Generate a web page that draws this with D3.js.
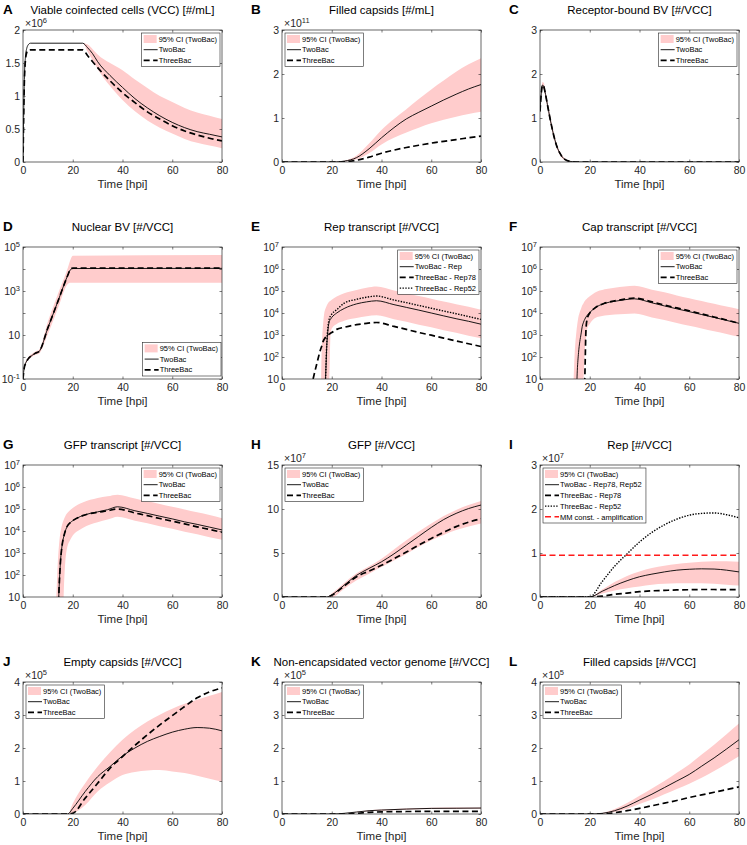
<!DOCTYPE html>
<html>
<head>
<meta charset="utf-8">
<script src="https://cdn.jsdelivr.net/npm/d3@7"></script>
<style>
  body { margin: 0; background: #fff; }
  svg { font-family: "Liberation Sans", Arial, Helvetica, sans-serif; }
</style>
</head>
<body>
<div id="chart"></div>
<script>
// ---- data ----

// A: viable coinfected cells, x1e6 per mL
const tA = [0, 0.5, 1, 1.5, 2, 3, 24, 26, 28, 30, 35, 40, 45, 50, 55, 60, 65, 70, 75, 80];
const aTwo = [0, 1.2, 1.6, 1.72, 1.77, 1.8, 1.8, 1.73, 1.64, 1.52, 1.31, 1.13, 0.96, 0.82, 0.7, 0.6, 0.52, 0.46, 0.42, 0.38];
const aThree = [0, 1.15, 1.55, 1.66, 1.69, 1.7, 1.7, 1.61, 1.52, 1.43, 1.23, 1.05, 0.9, 0.76, 0.65, 0.55, 0.47, 0.41, 0.36, 0.32];
const aHi = [0, 1.2, 1.6, 1.72, 1.77, 1.8, 1.8, 1.78, 1.71, 1.63, 1.5, 1.39, 1.25, 1.12, 1.0, 0.91, 0.82, 0.75, 0.7, 0.65];
const aLo = [0, 1.2, 1.6, 1.72, 1.77, 1.8, 1.8, 1.67, 1.54, 1.41, 1.15, 0.94, 0.77, 0.63, 0.52, 0.43, 0.35, 0.29, 0.25, 0.21];

// B: filled capsids, x1e11 per mL
const tB = [0, 20, 22, 25, 30, 35, 40, 45, 50, 55, 60, 65, 70, 75, 80];
const bTwo = [0, 0, 0.003, 0.02, 0.1, 0.3, 0.55, 0.78, 0.98, 1.13, 1.27, 1.41, 1.54, 1.66, 1.76];
const bThree = [0, 0, 0, 0.005, 0.04, 0.11, 0.2, 0.27, 0.33, 0.38, 0.43, 0.47, 0.51, 0.55, 0.59];
const bHi = [0, 0, 0.005, 0.03, 0.15, 0.42, 0.73, 0.98, 1.2, 1.43, 1.65, 1.85, 2.05, 2.22, 2.36];
const bLo = [0, 0, 0.002, 0.01, 0.06, 0.2, 0.4, 0.55, 0.67, 0.78, 0.88, 0.96, 1.03, 1.09, 1.14];

// C: receptor-bound BV
const tC = [0, 0.5, 1, 1.5, 2, 3, 4, 5, 6, 7, 8, 9, 10, 12, 15, 80];
const cTwo = [1.15, 1.55, 1.75, 1.72, 1.6, 1.3, 1.0, 0.73, 0.5, 0.32, 0.2, 0.11, 0.06, 0.015, 0, 0];
const cThree = [1.15, 1.55, 1.75, 1.72, 1.6, 1.3, 1.0, 0.73, 0.5, 0.32, 0.2, 0.11, 0.06, 0.015, 0, 0];
const cHi = [1.2, 1.62, 1.82, 1.8, 1.68, 1.38, 1.08, 0.8, 0.56, 0.37, 0.24, 0.14, 0.08, 0.02, 0, 0];
const cLo = [1.1, 1.48, 1.68, 1.64, 1.52, 1.22, 0.92, 0.66, 0.44, 0.27, 0.16, 0.08, 0.04, 0.01, 0, 0];

// D: nuclear BV (log)
const tD = [0, 0.25, 0.5, 1, 2, 3, 4, 5, 6.4, 10, 14, 18, 19, 20, 80];
const dTwo = [0.1, 0.2, 0.32, 0.5, 0.8, 1.05, 1.26, 1.5, 1.75, 21, 330, 5200, 9100, 10500, 10700];
const dThree = [0.1, 0.2, 0.32, 0.5, 0.8, 1.05, 1.26, 1.5, 1.75, 21, 330, 5200, 9500, 11000, 11000];
const dHi = [0.1, 0.22, 0.35, 0.58, 0.93, 1.26, 1.5, 1.8, 2.1, 40, 710, 11000, 25000, 40000, 43000];
const dLo = [0.1, 0.18, 0.28, 0.44, 0.69, 0.89, 1.07, 1.26, 1.41, 11, 160, 2100, 2400, 2400, 2400];

// E: Rep transcript (log)
const tE = [12.5, 14, 15.5, 16, 16.5, 17, 17.5, 18, 18.5, 19, 19.5, 20, 22, 25, 30, 34, 38, 45, 50, 55, 60, 65, 70, 75, 80];
const eTwo = [1, 1, 1, 1, 1, 1, 10, 320, 1800, 4000, 5200, 6300, 10000, 16000, 26000, 32000, 36000, 24000, 18000, 13500, 10000, 7400, 5500, 4200, 3100];
const eRep78 = [10, 50, 220, 320, 500, 650, 780, 900, 1000, 1100, 1200, 1300, 1800, 2240, 2950, 3400, 3700, 2450, 1800, 1300, 980, 720, 540, 400, 300];
const eRep52 = [1, 1, 1, 1, 1, 1, 10, 400, 2500, 5500, 7200, 8900, 14000, 28000, 42000, 52000, 59000, 39000, 29500, 22000, 16500, 12300, 9300, 6900, 5100];
const eHi = [1, 1, 1, 300, 3000, 10000, 16000, 22000, 28000, 33000, 36000, 40000, 56000, 79000, 112000, 140000, 160000, 105000, 79000, 59000, 45000, 33000, 25000, 19000, 14000];
const eLo = [1, 1, 1, 1, 1, 1, 1, 1, 1, 10, 1000, 2000, 3200, 4500, 6000, 7100, 7900, 5200, 4000, 2950, 2240, 1660, 1260, 930, 710];

// F: Cap transcript (log)
const tF = [13, 13.5, 14, 14.5, 15, 15.5, 16, 16.5, 17, 17.5, 18, 18.5, 19, 20, 22, 26, 30, 34, 38, 45, 50, 55, 60, 65, 70, 75, 80];
const fTwo = [1, 1, 1, 1, 25, 160, 500, 1100, 2500, 3800, 5200, 6600, 7900, 10500, 16600, 27500, 34000, 40000, 44000, 29000, 21000, 15500, 11500, 8500, 6300, 4600, 3400];
const fThree = [1, 1, 1, 1, 1, 1, 1, 1, 1, 1, 10, 2000, 5600, 10000, 16600, 28000, 35500, 43000, 48000, 32000, 23000, 17000, 12600, 9100, 6600, 4800, 3400];
const fHi = [1, 10, 200, 1000, 3200, 7100, 11200, 15800, 22400, 28000, 35500, 41000, 47000, 57500, 83000, 120000, 141000, 162000, 174000, 115000, 87000, 63000, 47000, 35000, 26000, 19500, 14800];
const fLo = [1, 1, 1, 1, 1, 1, 1, 1, 1, 10, 200, 800, 2000, 3200, 5750, 7600, 8500, 9100, 9550, 6300, 4800, 3550, 2630, 2000, 1480, 1120, 830];

// G: GFP transcript (log)
const tG = [13, 13.5, 14, 14.5, 15, 15.5, 16, 16.5, 17, 17.5, 18, 19, 20, 22, 24, 27, 30, 34, 38, 45, 50, 55, 60, 65, 70, 75, 80];
const gTwo = [1, 1, 1, 25, 320, 1400, 3550, 6300, 10000, 14000, 18000, 24000, 29500, 40000, 50000, 63000, 74000, 93000, 126000, 83000, 63000, 47000, 35500, 26000, 20000, 15000, 11200];
const gThree = [1, 1, 1, 25, 320, 1400, 3550, 6300, 10000, 14000, 18000, 24000, 29500, 40000, 50000, 62000, 71000, 83000, 100000, 66000, 50000, 37000, 28000, 21000, 15500, 11700, 8700];
const gHi = [1, 20, 400, 2500, 7900, 15800, 25000, 35500, 47000, 59000, 69000, 89000, 112000, 158000, 200000, 260000, 320000, 380000, 450000, 300000, 224000, 170000, 126000, 95000, 71000, 54000, 38000];
const gLo = [1, 1, 1, 1, 1, 1, 1, 40, 400, 1260, 2240, 4000, 6300, 10000, 13800, 20000, 25000, 33000, 45000, 29500, 22400, 16600, 12600, 9300, 7100, 5200, 4000];

// H: GFP, x1e7
const tH = [0, 18, 20, 25, 30, 35, 40, 45, 50, 55, 60, 65, 70, 75, 80];
const hTwo = [0, 0, 0.25, 1.35, 2.47, 3.25, 4.0, 4.9, 5.9, 6.9, 7.9, 8.8, 9.5, 10.05, 10.45];
const hThree = [0, 0, 0.2, 1.25, 2.3, 2.95, 3.6, 4.35, 5.1, 5.9, 6.65, 7.35, 8.0, 8.5, 8.9];
const hHi = [0, 0, 0.4, 1.6, 2.7, 3.5, 4.35, 5.4, 6.45, 7.45, 8.35, 9.2, 9.9, 10.45, 10.9];
const hLo = [0, 0, 0, 0.95, 1.9, 2.65, 3.4, 4.15, 4.9, 5.7, 6.45, 7.05, 7.6, 8.0, 8.35];

// I: Rep protein, x1e7
const tI = [0, 20, 25, 30, 35, 40, 45, 50, 55, 60, 65, 70, 75, 80];
const iTwo = [0, 0, 0.13, 0.26, 0.37, 0.46, 0.52, 0.57, 0.61, 0.63, 0.64, 0.635, 0.61, 0.57];
const iRep78 = [0, 0, 0.02, 0.06, 0.09, 0.12, 0.14, 0.15, 0.16, 0.165, 0.17, 0.17, 0.168, 0.165];
const iRep52 = [0, 0, 0.35, 0.7, 0.98, 1.25, 1.47, 1.64, 1.77, 1.86, 1.9, 1.91, 1.87, 1.8];
const iHi = [0, 0, 0.17, 0.34, 0.48, 0.58, 0.66, 0.71, 0.75, 0.78, 0.8, 0.81, 0.81, 0.8];
const iLo = [0, 0, 0.08, 0.15, 0.2, 0.24, 0.28, 0.3, 0.31, 0.31, 0.31, 0.3, 0.28, 0.26];
const iMM = 0.95;

// J: empty capsids, x1e5
const tJ = [0, 18, 20, 25, 30, 35, 40, 45, 50, 55, 60, 65, 70, 75, 80];
const jTwo = [0, 0, 0.17, 0.68, 1.13, 1.44, 1.76, 2.0, 2.2, 2.35, 2.48, 2.57, 2.62, 2.6, 2.52];
const jThree = [0, 0, 0.02, 0.48, 0.93, 1.39, 1.74, 2.08, 2.4, 2.7, 2.98, 3.26, 3.52, 3.7, 3.82];
const jHi = [0, 0, 0.32, 0.93, 1.44, 1.87, 2.25, 2.55, 2.8, 3.01, 3.19, 3.34, 3.46, 3.58, 3.7];
const jLo = [0, 0, 0.02, 0.27, 0.68, 0.96, 1.18, 1.27, 1.32, 1.33, 1.29, 1.24, 1.16, 1.07, 0.98];

// K: non-encapsidated vector genome, x1e5
const tK = [0, 20, 25, 30, 35, 40, 50, 60, 70, 80];
const kTwo = [0, 0, 0.02, 0.06, 0.1, 0.12, 0.15, 0.17, 0.175, 0.18];
const kThree = [0, 0, 0, 0.02, 0.05, 0.065, 0.075, 0.08, 0.08, 0.08];
const kHi = [0, 0, 0.025, 0.07, 0.115, 0.14, 0.17, 0.19, 0.2, 0.2];
const kLo = [0, 0, 0.015, 0.05, 0.085, 0.1, 0.13, 0.15, 0.155, 0.16];

// L: filled capsids per VCC, x1e5
const tL = [0, 20, 25, 30, 35, 40, 45, 50, 55, 60, 65, 70, 75, 80];
const lTwo = [0, 0, 0.02, 0.1, 0.24, 0.42, 0.6, 0.8, 1.0, 1.2, 1.45, 1.7, 1.97, 2.25];
const lThree = [0, 0, 0, 0.04, 0.1, 0.17, 0.25, 0.33, 0.41, 0.5, 0.58, 0.66, 0.74, 0.82];
const lHi = [0, 0, 0.03, 0.15, 0.33, 0.55, 0.77, 1.0, 1.25, 1.5, 1.8, 2.1, 2.42, 2.74];
const lLo = [0, 0, 0.01, 0.06, 0.16, 0.3, 0.44, 0.6, 0.76, 0.92, 1.1, 1.3, 1.52, 1.75];

const xTicks = [0, 20, 40, 60, 80];
const ciLabel = '95% CI (TwoBac)';
const basicLegend = [['band', ciLabel], ['two', 'TwoBac'], ['three', 'ThreeBac']];

// ---- layout ----
const width = 747, height = 845;
const colX = [23, 282, 540], rowY = [30, 247, 465, 682];
const letterX = [3, 251, 509];
const pw = 199, ph = 132;
const axisColor = '#262626';
const ciFill = '#ffcccc';

const styles = {
  two:   {stroke: '#000', w: 0.9, dash: null},
  three: {stroke: '#000', w: 1.7, dash: '6,3.5'},
  dot:   {stroke: '#000', w: 1.4, dash: '1.4,1.4'},
  mm:    {stroke: '#ff1a1a', w: 1.5, dash: '6,3.5'}
};

const panels = [
  {id: 'A', title: 'Viable coinfected cells (VCC) [#/mL]', c: 0, r: 0, t: tA, dom: [0, 2], yt: [0, 0.5, 1, 1.5, 2], exp: '6',
   band: [aLo, aHi], lines: [[aTwo, 'two'], [aThree, 'three']], leg: 'tr', entries: basicLegend},
  {id: 'B', title: 'Filled capsids [#/mL]', c: 1, r: 0, t: tB, dom: [0, 3], yt: [0, 1, 2, 3], exp: '11',
   band: [bLo, bHi], lines: [[bTwo, 'two'], [bThree, 'three']], leg: 'tl', entries: basicLegend},
  {id: 'C', title: 'Receptor-bound BV [#/VCC]', c: 2, r: 0, t: tC, dom: [0, 3], yt: [0, 1, 2, 3],
   band: [cLo, cHi], lines: [[cTwo, 'two'], [cThree, 'three']], leg: 'tr', entries: basicLegend},
  {id: 'D', title: 'Nuclear BV [#/VCC]', c: 0, r: 1, t: tD, dom: [0.1, 1e5], log: true,
   yt: [0.1, 1, 10, 100, 1e3, 1e4, 1e5], ylab: [0.1, 10, 1e3, 1e5],
   band: [dLo, dHi], lines: [[dTwo, 'two'], [dThree, 'three']], leg: 'br', entries: basicLegend},
  {id: 'E', title: 'Rep transcript [#/VCC]', c: 1, r: 1, t: tE, dom: [10, 1e7], log: true,
   yt: [10, 1e2, 1e3, 1e4, 1e5, 1e6, 1e7], ylab: [10, 1e2, 1e3, 1e4, 1e5, 1e6, 1e7],
   band: [eLo, eHi], lines: [[eTwo, 'two'], [eRep78, 'three'], [eRep52, 'dot']], leg: 'tr',
   entries: [['band', ciLabel], ['two', 'TwoBac - Rep'], ['three', 'ThreeBac - Rep78'], ['dot', 'ThreeBac - Rep52']]},
  {id: 'F', title: 'Cap transcript [#/VCC]', c: 2, r: 1, t: tF, dom: [10, 1e7], log: true,
   yt: [10, 1e2, 1e3, 1e4, 1e5, 1e6, 1e7], ylab: [10, 1e2, 1e3, 1e4, 1e5, 1e6, 1e7],
   band: [fLo, fHi], lines: [[fTwo, 'two'], [fThree, 'three']], leg: 'tr', entries: basicLegend},
  {id: 'G', title: 'GFP transcript [#/VCC]', c: 0, r: 2, t: tG, dom: [10, 1e7], log: true,
   yt: [10, 1e2, 1e3, 1e4, 1e5, 1e6, 1e7], ylab: [10, 1e2, 1e3, 1e4, 1e5, 1e6, 1e7],
   band: [gLo, gHi], lines: [[gTwo, 'two'], [gThree, 'three']], leg: 'tr', entries: basicLegend},
  {id: 'H', title: 'GFP [#/VCC]', c: 1, r: 2, t: tH, dom: [0, 15], yt: [0, 5, 10, 15], exp: '7',
   band: [hLo, hHi], lines: [[hTwo, 'two'], [hThree, 'three']], leg: 'tl', entries: basicLegend},
  {id: 'I', title: 'Rep [#/VCC]', c: 2, r: 2, t: tI, dom: [0, 3], yt: [0, 1, 2, 3], exp: '7',
   band: [iLo, iHi], lines: [[iTwo, 'two'], [iRep78, 'three'], [iRep52, 'dot']], hline: iMM, leg: 'tl',
   entries: [['band', ciLabel], ['two', 'TwoBac - Rep78, Rep52'], ['three', 'ThreeBac - Rep78'],
             ['dot', 'ThreeBac - Rep52'], ['mm', 'MM const. - amplification']]},
  {id: 'J', title: 'Empty capsids [#/VCC]', c: 0, r: 3, t: tJ, dom: [0, 4], yt: [0, 1, 2, 3, 4], exp: '5',
   band: [jLo, jHi], lines: [[jTwo, 'two'], [jThree, 'three']], leg: 'tl', entries: basicLegend},
  {id: 'K', title: 'Non-encapsidated vector genome [#/VCC]', c: 1, r: 3, t: tK, dom: [0, 4], yt: [0, 1, 2, 3, 4], exp: '5',
   band: [kLo, kHi], lines: [[kTwo, 'two'], [kThree, 'three']], leg: 'tl', entries: basicLegend},
  {id: 'L', title: 'Filled capsids [#/VCC]', c: 2, r: 3, t: tL, dom: [0, 4], yt: [0, 1, 2, 3, 4], exp: '5',
   band: [lLo, lHi], lines: [[lTwo, 'two'], [lThree, 'three']], leg: 'tl', entries: basicLegend}
];

const svg = d3.select('#chart').append('svg')
  .attr('width', width).attr('height', height);

function styleAxis(g) {
  g.select('.domain').remove();
  g.attr('font-family', null).attr('font-size', 10.5).attr('color', axisColor);
  g.selectAll('.tick line').attr('stroke-width', 0.6);
}

function drawPanel(p) {
  const x0 = colX[p.c], y0 = rowY[p.r];
  const g = svg.append('g').attr('transform', `translate(${x0},${y0})`);
  const x = d3.scaleLinear().domain([0, 80]).range([0, pw]);
  const y = (p.log ? d3.scaleLog() : d3.scaleLinear()).domain(p.dom).range([ph, 0]);

  // panel letter and title
  svg.append('text').attr('x', letterX[p.c]).attr('y', y0 - 16)
    .attr('font-size', 13.5).attr('font-weight', 'bold').text(p.id);
  svg.append('text').attr('x', x0 + pw / 2).attr('y', y0 - 16)
    .attr('text-anchor', 'middle').attr('font-size', 11.5).attr('fill', '#000').text(p.title);

  g.append('clipPath').attr('id', 'clip' + p.id)
    .append('rect').attr('width', pw).attr('height', ph);
  const plot = g.append('g').attr('clip-path', `url(#clip${p.id})`);

  const idx = d3.range(p.t.length);
  const [lo, hi] = p.band;
  const area = d3.area()
    .x(i => x(p.t[i])).y0(i => y(lo[i])).y1(i => y(hi[i]))
    .curve(d3.curveMonotoneX);
  plot.append('path').datum(idx).attr('d', area).attr('fill', ciFill);

  p.lines.forEach(([vals, s]) => {
    const st = styles[s];
    const line = d3.line().x(i => x(p.t[i])).y(i => y(vals[i])).curve(d3.curveMonotoneX);
    plot.append('path').datum(idx).attr('d', line)
      .attr('fill', 'none').attr('stroke', st.stroke).attr('stroke-width', st.w)
      .attr('stroke-dasharray', st.dash);
  });

  if (p.hline !== undefined) {
    const st = styles.mm;
    plot.append('line').attr('x1', x(0)).attr('x2', x(80))
      .attr('y1', y(p.hline)).attr('y2', y(p.hline))
      .attr('stroke', st.stroke).attr('stroke-width', st.w).attr('stroke-dasharray', st.dash);
  }

  // axes, ticks pointing inwards on all four sides
  g.append('g').attr('transform', `translate(0,${ph})`)
    .call(d3.axisBottom(x).tickValues(xTicks).tickSizeInner(-2.5).tickSizeOuter(0).tickPadding(5))
    .call(styleAxis);
  g.append('g')
    .call(d3.axisTop(x).tickValues(xTicks).tickSizeInner(-2.5).tickSizeOuter(0).tickFormat(''))
    .call(styleAxis);

  const yl = g.append('g')
    .call(d3.axisLeft(y).tickValues(p.yt).tickSizeInner(-2.5).tickSizeOuter(0).tickPadding(3)
      .tickFormat(p.log ? (d => p.ylab.includes(d) ? 'L' : '') : d3.format('~g')))
    .call(styleAxis);
  g.append('g').attr('transform', `translate(${pw},0)`)
    .call(d3.axisRight(y).tickValues(p.yt).tickSizeInner(-2.5).tickSizeOuter(0).tickFormat(''))
    .call(styleAxis);

  if (p.log) {
    yl.selectAll('.tick text').each(function (d) {
      const t = d3.select(this);
      if (t.text() === '') return;
      const e = Math.round(Math.log10(d));
      t.text('');
      t.append('tspan').text('10');
      if (e !== 1) t.append('tspan').attr('dy', '-0.5em').attr('font-size', 7.5).text(e);
    });
  }

  g.append('rect').attr('width', pw).attr('height', ph)
    .attr('fill', 'none').attr('stroke', axisColor).attr('stroke-width', 0.7);

  // exponent label
  if (p.exp) {
    const ex = g.append('text').attr('x', 2).attr('y', -3)
      .attr('font-size', 10.5).attr('fill', axisColor);
    ex.append('tspan').text('\u00d710');
    ex.append('tspan').attr('dy', '-0.5em').attr('font-size', 7.5).text(p.exp);
  }

  x.label = g.append('text').attr('x', pw / 2).attr('y', ph + 26)
    .attr('text-anchor', 'middle').attr('font-size', 11.5).attr('fill', axisColor).text('Time [hpi]');

  drawLegend(g, p);
}

function drawLegend(g, p) {
  const rowH = 10.7, fs = 7.5;
  const lg = g.append('g');
  const box = lg.append('rect').attr('fill', '#fff').attr('stroke', axisColor).attr('stroke-width', 0.6);
  let maxW = 0;
  p.entries.forEach(([kind, label], k) => {
    const cy = 6 + k * rowH;
    if (kind === 'band') {
      lg.append('rect').attr('x', 2).attr('y', cy - 4).attr('width', 13).attr('height', 8).attr('fill', ciFill);
    } else {
      const st = styles[kind];
      lg.append('line').attr('x1', 2).attr('x2', 16).attr('y1', cy).attr('y2', cy)
        .attr('stroke', st.stroke).attr('stroke-width', st.w).attr('stroke-dasharray', st.dash);
    }
    const tx = lg.append('text').attr('x', 17).attr('y', cy + 2.7)
      .attr('font-size', fs).attr('fill', '#000').text(label);
    maxW = Math.max(maxW, tx.node().getComputedTextLength());
  });
  const bw = maxW + 20, bh = p.entries.length * rowH + 1.5;
  box.attr('width', bw).attr('height', bh);
  let lx, ly;
  if (p.leg === 'tr') { lx = pw - 2 - bw; ly = 3; }
  else if (p.leg === 'tl') { lx = 3; ly = 3; }
  else { lx = pw - 1 - bw; ly = ph - 3 - bh; }
  lg.attr('transform', `translate(${lx},${ly})`);
}

panels.forEach(drawPanel);
</script>
</body>
</html>
